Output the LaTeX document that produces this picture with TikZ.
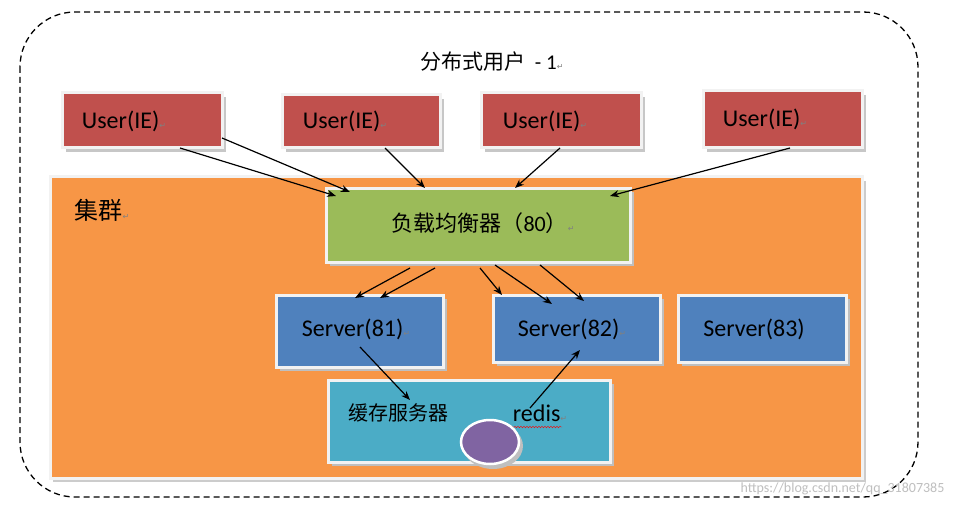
\documentclass[tikz,border=0pt]{standalone}
\usepackage{fontspec}
\setmainfont{Carlito}
\newfontfamily\cjk{Noto Sans CJK SC}
\newfontfamily\sym{DejaVu Sans}
\usetikzlibrary{arrows.meta,decorations.pathmorphing,shapes.geometric}
\definecolor{ured}{HTML}{C0504D}
\definecolor{corange}{HTML}{F79646}
\definecolor{lbgreen}{HTML}{9BBB59}
\definecolor{sblue}{HTML}{4F81BD}
\definecolor{ccyan}{HTML}{4BACC6}
\definecolor{rpurple}{HTML}{8064A2}
\newcommand{\retmark}{{\sym\fontsize{8}{8}\selectfont\color{gray}↵}}
\begin{document}
\begin{tikzpicture}[x=1pt,y=-1pt,
  lbl/.style={font=\fontsize{24}{24}\selectfont},
  arr/.style={-{Stealth[length=9pt,width=7pt]},line width=1.2pt}]
\useasboundingbox (0,0) rectangle (956,508);
\fill[white] (0,0) rectangle (956,508);
\draw[dash pattern=on 6pt off 4pt,line width=1.3pt,rounded corners=55] (20,12) rectangle (918,497);
\node[font=\cjk\fontsize{21}{21}\selectfont] (title) at (492,62) {分布式用户\ \ {\rmfamily - 1}\retmark};
% users
\foreach \n/\a/\b/\c/\d in {u1/62/93/222/148,u2/282/95/440/148,u3/481/93/641/148,u4/703/91/862/148}{
  \fill[black!22] (\a+4,\b+4) rectangle (\c+4,\d+4);
  \draw[fill=ured,draw=white!95!black,line width=3pt] (\a,\b) rectangle (\c,\d);
}
\node[lbl] (t1) at (124,121) {User(IE)\retmark};
\node[lbl] (t2) at (345,121) {User(IE)\retmark};
\node[lbl] (t3) at (545,121) {User(IE)\retmark};
\node[lbl] (t4) at (765,119) {User(IE)\retmark};
% cluster
\fill[black!20] (53,181) rectangle (866,482);
\draw[fill=corange,draw=white!95!black,line width=3pt] (50,177) rectangle (862,478);
\node[font=\cjk\fontsize{24}{24}\selectfont] (cl) at (102,210) {集群\retmark};
% LB
\fill[black!25] (330,192) rectangle (634,266);
\draw[fill=lbgreen,draw=white!95!black,line width=3pt] (326,188) rectangle (630,262);
\node[font=\cjk\fontsize{22}{22}\selectfont] (lb) at (483,223) {负载均衡器（{\rmfamily 80}）\retmark};
% servers
\foreach \n/\a/\b/\c/\d in {s1/276/295/443/367,s2/493/295/660/362,s3/678/295/846/362}{
  \fill[black!25] (\a+4,\b+4) rectangle (\c+4,\d+4);
  \draw[fill=sblue,draw=white!95!black,line width=3pt] (\a,\b) rectangle (\c,\d);
}
\node[lbl] (st1) at (356,329) {Server(81)\retmark};
\node[lbl] (st2) at (572,329) {Server(82)\retmark};
\node[lbl] (st3) at (754,329) {Server(83)};
% cache
\fill[black!25] (332,384) rectangle (614,466);
\draw[fill=ccyan,draw=white!95!black,line width=3pt] (328,380) rectangle (610,462);
\node[font=\cjk\fontsize{20}{20}\selectfont] (cache) at (398,413) {缓存服务器};
\node[lbl] (redis) at (540,413) {redis\retmark};
\draw[red,decorate,decoration={snake,amplitude=0.8pt,segment length=3pt}] (511,427) -- (562,427);
\fill[black!25] (493,446) ellipse (30 and 23);
\node[draw=white,line width=2.5pt,fill=rpurple,ellipse,minimum width=58pt,minimum height=44pt,inner sep=0] (r) at (490,442) {};
% arrow endpoints
\foreach \n/\x/\y in {a1s/222/138,a1e/350/192,a2s/180/148,a2e/336/196,a3s/385/148,a3e/425/188,
  a4s/560/148,a4e/515/188,a5s/790/148,a5e/610/196,
  b1s/410/268,b1e/355/298,b2s/435/268,b2e/380/298,b3s/480/268,b3e/502/295,
  b4s/495/265,b4e/552/304,b5s/540/265,b5e/584/301,
  c1s/360/347,c1e/410/400,c2s/530/408,c2e/580/350}
  \coordinate (\n) at (\x,\y);
\foreach \p in {a1,a2,a3,a4,a5,b1,b2,b3,b4,b5,c1,c2}
  \draw[arr] (\p s) -- (\p e);
\node[font=\fontsize{14}{14}\selectfont,text=white!75!black,anchor=east] (wm) at (948,489) {https://blog.csdn.net/qq\_31807385};
\end{tikzpicture}
\end{document}
